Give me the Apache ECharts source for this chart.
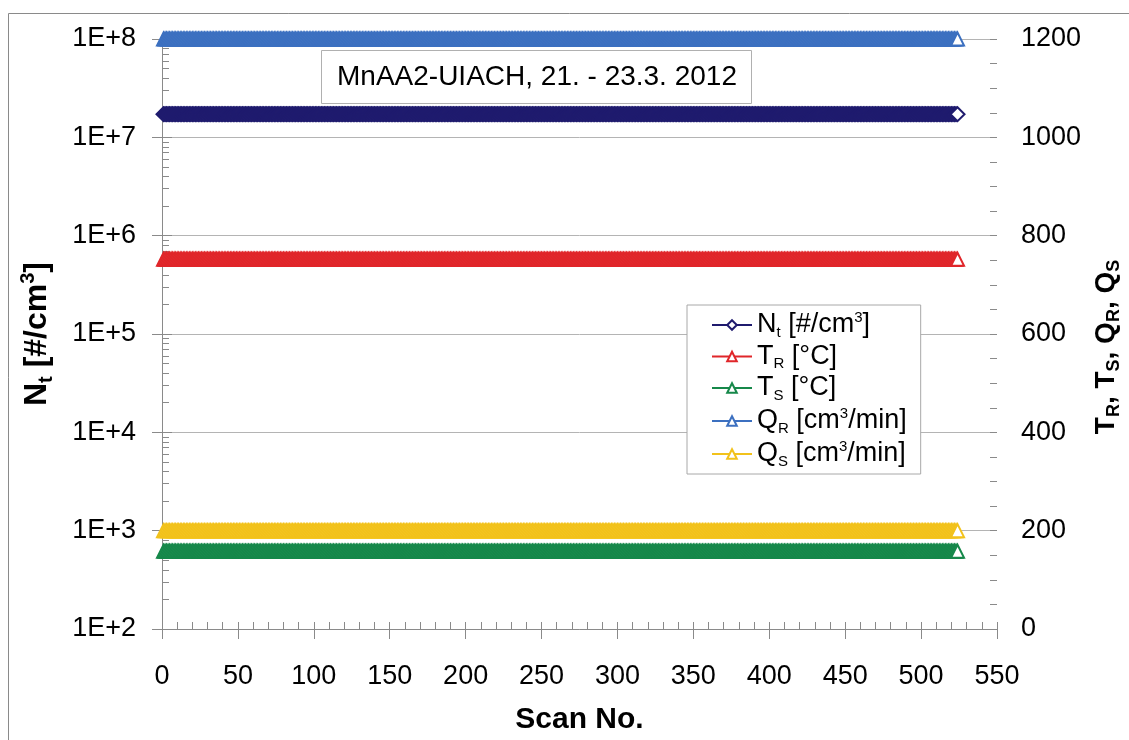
<!DOCTYPE html>
<html><head><meta charset="utf-8">
<script src="https://cdn.jsdelivr.net/npm/echarts@6/dist/echarts.min.js"></script>
<style>html,body{margin:0;padding:0;background:#fff}#c{width:1129px;height:740px}</style>
</head><body><div id="c"></div>
<script>
// ---- data ----
const chartTitle = 'MnAA2-UIACH, 21. - 23.3. 2012';
const xTickValues = [0, 50, 100, 150, 200, 250, 300, 350, 400, 450, 500, 550];
const leftTickExponents = [2, 3, 4, 5, 6, 7, 8];          // 1E+2 ... 1E+8
const rightTickValues = [0, 200, 400, 600, 800, 1000, 1200];
const scanFirst = 1;     // first scan number plotted
const scanLast = 524;    // last scan number plotted
const seriesNames = ['Nt', 'TR', 'TS', 'QR', 'QS'];
// every scan shows the same reading for each quantity
const ntReading = 1.72e7;   // #/cm3 (left, log axis)
const trReading = 752;      // °C
const tsReading = 158;      // °C
const qrReading = 1200;     // cm3/min
const qsReading = 200;      // cm3/min

// ---- styles ----
const FONT = '"Liberation Sans", Arial, Helvetica, sans-serif';
const AX = '#8a8a8a';
const COLORS = {Nt: '#1f1b6e', TR: '#e0262a', TS: '#16884a', QR: '#3c70c0', QS: '#f2c21b'};

const scans = [];
for (let s = scanFirst; s <= scanLast; s++) scans.push(s);
const readings = {Nt: ntReading, TR: trReading, TS: tsReading, QR: qrReading, QS: qsReading};

// log minor tick positions (2..9 within each decade) – axis decoration
const logMinorTicks = [];
for (let e = leftTickExponents[0]; e < leftTickExponents[leftTickExponents.length - 1]; e++) {
  for (let m = 1; m <= 9; m++) logMinorTicks.push(m * Math.pow(10, e));
}
logMinorTicks.push(Math.pow(10, leftTickExponents[leftTickExponents.length - 1]));

const legendText = {
  Nt: '{m|N}{sub|t}{m| [#/cm}{sup|3}{m|]}',
  TR: '{m|T}{sub|R}{m| [°C]}',
  TS: '{m|T}{sub|S}{m| [°C]}',
  QR: '{m|Q}{sub|R}{m| [cm}{sup|3}{m|/min]}',
  QS: '{m|Q}{sub|S}{m| [cm}{sup|3}{m|/min]}'
};

const series = seriesNames.map((n, i) => ({
  type: 'line',
  name: n,
  xAxisIndex: 0,
  yAxisIndex: i === 0 ? 0 : 1,
  data: scans.map(s => [s, readings[n]]),
  symbol: i === 0 ? 'diamond' : 'triangle',
  symbolSize: i === 0 ? 14 : 13,
  showSymbol: true,
  showAllSymbol: true,
  animation: false,
  lineStyle: {color: COLORS[n], width: 1.5},
  itemStyle: {color: '#ffffff', borderColor: COLORS[n], borderWidth: 2},
  emphasis: {disabled: true},
  z: 3
}));

const chart = echarts.init(document.getElementById('c'), null, {renderer: 'canvas'});
chart.setOption({
  animation: false,
  backgroundColor: '#ffffff',
  textStyle: {fontFamily: FONT},
  graphic: [{
    type: 'rect', silent: true, z: -10,
    shape: {x: 8.5, y: 13.5, width: 1150, height: 760},
    style: {fill: 'none', stroke: '#8a8a8a', lineWidth: 1}
  }],
  title: {
    text: chartTitle, left: 321, top: 50, padding: [13, 15, 13, 16],
    borderColor: '#b0b0b0', borderWidth: 1, backgroundColor: '#ffffff',
    textStyle: {fontFamily: FONT, fontSize: 28, fontWeight: 'normal', color: '#000'}
  },
  legend: {
    orient: 'vertical', left: 687, top: 305,
    padding: [5, 14, 5, 24],
    backgroundColor: '#ffffff', borderColor: '#a8a8a8', borderWidth: 1,
    itemWidth: 40, itemHeight: 12, itemGap: 3,
    data: seriesNames,
    formatter: n => legendText[n],
    textStyle: {
      fontFamily: FONT, fontSize: 27, color: '#000',
      rich: {
        m: {fontFamily: FONT, fontSize: 27, color: '#000', lineHeight: 30},
        sub: {fontFamily: FONT, fontSize: 15, color: '#000', lineHeight: 30, verticalAlign: 'bottom'},
        sup: {fontFamily: FONT, fontSize: 15, color: '#000', lineHeight: 30, verticalAlign: 'top'}
      }
    }
  },
  grid: {left: 162, right: 132, top: 39, bottom: 111, containLabel: false, outerBoundsMode: 'none'},
  xAxis: [{
    type: 'value', min: xTickValues[0], max: xTickValues[xTickValues.length - 1], interval: 50,
    position: 'bottom',
    axisLine: {show: true, onZero: false, lineStyle: {color: AX, width: 1}},
    axisTick: {show: true, inside: false, length: 10, lineStyle: {color: AX}},
    axisLabel: {show: true, fontSize: 27, color: '#000', margin: 34, fontFamily: FONT},
    splitLine: {show: false},
    name: 'Scan No.', nameLocation: 'middle', nameGap: 76,
    nameTextStyle: {fontFamily: FONT, fontSize: 30, fontWeight: 'bold', color: '#000'}
  }, {
    type: 'value', min: xTickValues[0], max: xTickValues[xTickValues.length - 1], interval: 10,
    position: 'bottom',
    axisLine: {show: false},
    axisTick: {show: true, inside: true, length: 7, lineStyle: {color: AX}},
    axisLabel: {show: false}, splitLine: {show: false}
  }],
  yAxis: [{
    type: 'log', logBase: 10, min: Math.pow(10, leftTickExponents[0]),
    max: Math.pow(10, leftTickExponents[leftTickExponents.length - 1]),
    position: 'left',
    axisLine: {show: true, lineStyle: {color: AX, width: 1}},
    axisTick: {show: true, inside: false, length: 10, lineStyle: {color: AX}},
    axisLabel: {
      show: true, fontSize: 27, color: '#000', margin: 26, fontFamily: FONT,
      formatter: v => '1E+' + Math.round(Math.log10(v))
    },
    splitLine: {show: true, lineStyle: {color: '#b4b4b4', width: 1}},
    name: '{b|N}{bs|t}{b| [#/cm}{bp|3}{b|]}', nameLocation: 'middle', nameGap: 106, nameRotate: 90,
    nameTextStyle: {
      fontFamily: FONT, color: '#000',
      rich: {
        b: {fontFamily: FONT, fontSize: 32, fontWeight: 'bold', color: '#000', lineHeight: 38},
        bs: {fontFamily: FONT, fontSize: 20, fontWeight: 'bold', color: '#000', lineHeight: 38, verticalAlign: 'bottom'},
        bp: {fontFamily: FONT, fontSize: 20, fontWeight: 'bold', color: '#000', lineHeight: 38, verticalAlign: 'top'}
      }
    }
  }, {
    type: 'value', min: rightTickValues[0], max: rightTickValues[rightTickValues.length - 1], interval: 200,
    position: 'right',
    axisLine: {show: true, lineStyle: {color: AX, width: 1}},
    axisTick: {show: true, inside: false, length: 10, lineStyle: {color: AX}},
    axisLabel: {show: true, fontSize: 27, color: '#000', margin: 24, fontFamily: FONT, formatter: v => String(v)},
    splitLine: {show: false},
    name: '{b|T}{bs|R}{b|, T}{bs|S}{b|, Q}{bs|R}{b|, Q}{bs|S}', nameLocation: 'middle', nameGap: 84, nameRotate: 90,
    nameTextStyle: {
      fontFamily: FONT, color: '#000', padding: [0, 26, 0, 0],
      rich: {
        b: {fontFamily: FONT, fontSize: 28, fontWeight: 'bold', color: '#000', lineHeight: 34},
        bs: {fontFamily: FONT, fontSize: 18, fontWeight: 'bold', color: '#000', lineHeight: 34, verticalAlign: 'bottom'}
      }
    }
  }, {
    type: 'log', logBase: 10, min: Math.pow(10, leftTickExponents[0]),
    max: Math.pow(10, leftTickExponents[leftTickExponents.length - 1]),
    position: 'left',
    axisLine: {show: false},
    axisTick: {show: true, inside: true, length: 7, customValues: logMinorTicks, lineStyle: {color: AX}},
    axisLabel: {show: false}, splitLine: {show: false}
  }, {
    type: 'value', min: rightTickValues[0], max: rightTickValues[rightTickValues.length - 1], interval: 50,
    position: 'right',
    axisLine: {show: false},
    axisTick: {show: true, inside: true, length: 7, lineStyle: {color: AX}},
    axisLabel: {show: false}, splitLine: {show: false}
  }],
  series: series
});
</script>
</body></html>
